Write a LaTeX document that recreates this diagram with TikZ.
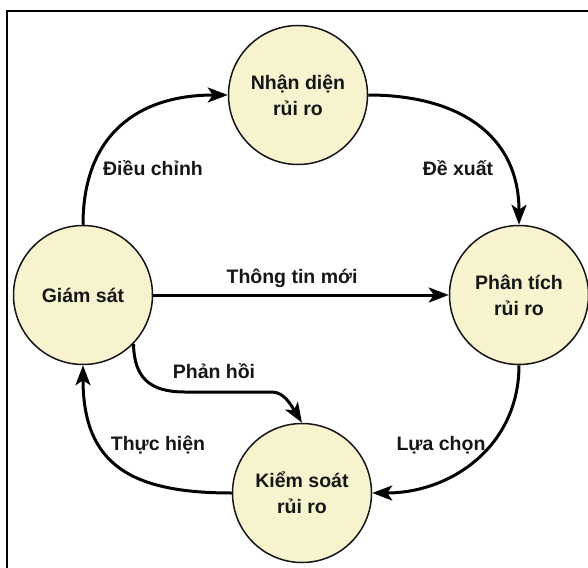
\documentclass[tikz,border=0pt]{standalone}
\usepackage{fontspec}
\setmainfont{Liberation Sans}
\usetikzlibrary{arrows.meta}
\definecolor{stagefill}{RGB}{247,243,206}
\definecolor{inkc}{RGB}{22,22,22}

\begin{document}
\begin{tikzpicture}[x=1pt,y=-1pt,
  stage/.style={circle,draw=inkc,line width=1.5pt,fill=stagefill,
    minimum size=139pt,inner sep=0pt,align=center,text=inkc,
    font=\fontsize{19.5}{26}\selectfont\bfseries},
  flow/.style={line width=3pt,draw=black,
    -{Stealth[length=20pt,width=15pt,inset=5pt]}},
  tag/.style={font=\fontsize{19.5}{24}\selectfont\bfseries,text=inkc,
    anchor=base,inner sep=0pt}]
\useasboundingbox (0,0) rectangle (588,567);

% frame (top and left edges)
\draw[line width=2pt] (7,568) -- (7,11) -- (589,11);

% the four stages of the cycle
\node[stage] (nd) at (298,95)  {Nhận diện\\rủi ro};
\node[stage] (gs) at (83,295)  {Giám sát};
\node[stage] (pt) at (519,295) {Phân tích\\rủi ro};
\node[stage] (ks) at (302,493) {Kiểm soát\\rủi ro};

% connectors
\draw[flow] (gs.north) .. controls +(0,-90) and +(-90,0) .. (nd.west);
\draw[flow] (nd.east) .. controls +(90,0) and +(0,-90) .. (pt.north);
\draw[flow] (gs.east) -- (pt.west);
\draw[flow] (pt.south) .. controls +(0,80) and +(80,0) .. (ks.east);
\draw[flow] (ks.west) .. controls +(-100,0) and +(0,100) .. (gs.south);
\coordinate (fbA) at (185,392);
\coordinate (fbB) at (272,392);
\draw[flow] (gs.-44) .. controls (134,378) and (150,392) .. (fbA) -- (fbB)
  .. controls (284,392) and (291,405) .. (ks.north);

% connector labels
\node[tag] (l1) at (153,175) {Điều chỉnh};
\node[tag] (l2) at (458,175) {Đề xuất};
\node[tag] (l3) at (292,283) {Thông tin mới};
\node[tag] (l4) at (214,378) {Phản hồi};
\node[tag] (l5) at (158,450) {Thực hiện};
\node[tag] (l6) at (441,450) {Lựa chọn};
\end{tikzpicture}
\end{document}
